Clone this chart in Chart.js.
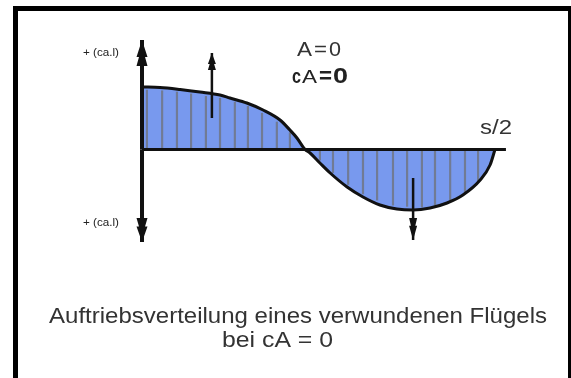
<!DOCTYPE html>
<html>
<head>
<meta charset="utf-8">
<script src="https://cdn.jsdelivr.net/npm/chart.js@4.4.1/dist/chart.umd.min.js"></script>
<style>
    html, body { margin: 0; padding: 0; background: #fff; }
    #wrap { position: relative; width: 571px; height: 378px; overflow: hidden; }
    #grafico { position: absolute; left: 0; top: 0; }
    #rahmen {
        position: absolute; left: 13px; top: 6px; width: 550px; height: 400px;
        border-left: 5px solid #000; border-top: 5px solid #000; border-right: 3px solid #000;
        pointer-events: none;
    }
</style>
</head>
<body>
<div id="wrap">
    <canvas id="grafico" width="571" height="378"></canvas>
    <div id="rahmen"></div>
</div>
<script>
// Spannweite (0 = Rumpf, 1 = Flügelspitze s/2) und relativer Auftrieb ca·l
const spannweite = [0, 0.051, 0.108, 0.164, 0.221, 0.249, 0.297, 0.343, 0.391, 0.419, 0.439, 0.462,
    0.476, 0.504, 0.533, 0.581, 0.626, 0.674, 0.722, 0.768, 0.816, 0.864, 0.909, 0.958, 0.986, 1.0];
const auftrieb = [1.0, 0.992, 0.96, 0.92, 0.872, 0.824, 0.744, 0.632, 0.472, 0.312, 0.184, 0,
    -0.056, -0.216, -0.376, -0.6, -0.76, -0.888, -0.952, -0.968, -0.936, -0.856, -0.728, -0.488, -0.248, 0];

// senkrechte Schraffur
const schraffurX = [0.014, 0.057, 0.099, 0.139, 0.181, 0.221, 0.263, 0.300, 0.340, 0.382, 0.419,
    0.504, 0.541, 0.584, 0.626, 0.666, 0.711, 0.751, 0.793, 0.830, 0.873, 0.915, 0.952];
const schraffurY = [0.95, 0.94, 0.92, 0.89, 0.85, 0.82, 0.76, 0.69, 0.58, 0.44, 0.27,
    -0.17, -0.37, -0.56, -0.71, -0.81, -0.89, -0.91, -0.92, -0.89, -0.81, -0.69, -0.5];

// Pfeile: Position, Anfang, Spitze
const pfeilX = [0, 0, 0.198, 0.768];
const pfeilVon = [0, 0, 0.504, -0.456];
const pfeilBis = [1.752, -1.48, 1.544, -1.448];
const pfeilBreite = [11, 11, 8, 8];
const pfeilLaenge = [26, 24, 17, 22];
const pfeilStrich = [4, 4, 2.5, 2.5];

const achseEnde = 1.031;

const kurve = spannweite.map((s, i) => ({ x: s, y: auftrieb[i] }));

const datasets = [
    {
        type: 'line', data: kurve, order: 6,
        borderWidth: 0, backgroundColor: '#7899ee', fill: 'origin',
        pointRadius: 0, cubicInterpolationMode: 'monotone'
    },
    {
        type: 'bar', order: 5,
        data: schraffurX.map((s, i) => ({ x: s, y: schraffurY[i] })),
        backgroundColor: 'rgba(110,110,110,0.7)', barThickness: 1.5, borderWidth: 0
    },
    {
        type: 'line', data: kurve, order: 4,
        borderColor: '#111', borderWidth: 3, fill: false,
        pointRadius: 0, cubicInterpolationMode: 'monotone'
    },
    {
        type: 'line', order: 3,
        data: [{ x: 0, y: 0 }, { x: achseEnde, y: 0 }],
        borderColor: '#111', borderWidth: 3, pointRadius: 0, fill: false
    }
];

pfeilX.forEach((px, i) => {
    datasets.push({
        type: 'line', order: 2,
        data: [{ x: px, y: pfeilVon[i] }, { x: px, y: pfeilBis[i] }],
        borderColor: '#111', borderWidth: pfeilStrich[i], pointRadius: 0, fill: false
    });
});

// Pfeilspitzen und Beschriftung
const zeichenPlugin = {
    id: 'zeichen',
    afterDatasetsDraw(chart) {
        const { ctx, scales: { x, y } } = chart;
        ctx.save();
        ctx.fillStyle = '#111';
        pfeilX.forEach((px, i) => {
            const cx = x.getPixelForValue(px);
            const ty = y.getPixelForValue(pfeilBis[i]);
            const dir = pfeilBis[i] > pfeilVon[i] ? 1 : -1;
            const w = pfeilBreite[i] / 2, l = pfeilLaenge[i];
            ctx.beginPath();
            ctx.moveTo(cx, ty);
            ctx.lineTo(cx + w, ty + dir * l * 0.65);
            ctx.lineTo(cx + w * 0.55, ty + dir * l * 0.65);
            ctx.lineTo(cx + w, ty + dir * l);
            ctx.lineTo(cx - w, ty + dir * l);
            ctx.lineTo(cx - w * 0.55, ty + dir * l * 0.65);
            ctx.lineTo(cx - w, ty + dir * l * 0.65);
            ctx.closePath();
            ctx.fill();
        });
        ctx.restore();
    },
    afterDraw(chart) {
        const ctx = chart.ctx;
        function text(str, x, yy, breite, font, farbe) {
            ctx.save();
            ctx.font = font;
            ctx.fillStyle = farbe;
            ctx.textBaseline = 'alphabetic';
            const m = ctx.measureText(str).width;
            ctx.translate(x, yy);
            ctx.scale(breite / m, 1);
            ctx.fillText(str, 0, 0);
            ctx.restore();
        }
        text('+ (ca.l)', 83, 56, 36, '11px "Liberation Sans"', '#222');
        text('+ (ca.l)', 83, 226, 36, '11px "Liberation Sans"', '#222');

        text('A', 297, 56, 15, '21px "Liberation Sans"', '#333');
        text('=', 314, 56, 13, '21px "Liberation Sans"', '#333');
        text('0', 329, 56, 12, '21px "Liberation Sans"', '#333');

        text('c', 292, 83, 9, 'bold 21px "Liberation Sans"', '#222');
        text('A', 302, 83, 15, '18px "Liberation Sans"', '#222');
        text('=', 319, 83, 13, 'bold 22px "Liberation Sans"', '#222');
        text('0', 333, 83, 15, 'bold 22px "Liberation Sans"', '#222');

        text('s/2', 480, 134, 32, '20px "Liberation Sans"', '#333');

        text('Auftriebsverteilung eines verwundenen Flügels', 49, 323, 498, '22px "Liberation Sans"', '#333');
        text('bei cA = 0', 222, 347, 111, '22px "Liberation Sans"', '#333');
    }
};

new Chart(document.getElementById('grafico'), {
    type: 'scatter',
    data: { datasets: datasets },
    options: {
        responsive: false,
        animation: false,
        layout: { padding: 0 },
        plugins: { legend: { display: false }, tooltip: { enabled: false } },
        scales: {
            x: { type: 'linear', display: false, offset: false, min: -0.4023, max: 1.2153 },
            y: { type: 'linear', display: false, min: -3.656, max: 2.392 }
        }
    },
    plugins: [zeichenPlugin]
});
</script>
</body>
</html>
